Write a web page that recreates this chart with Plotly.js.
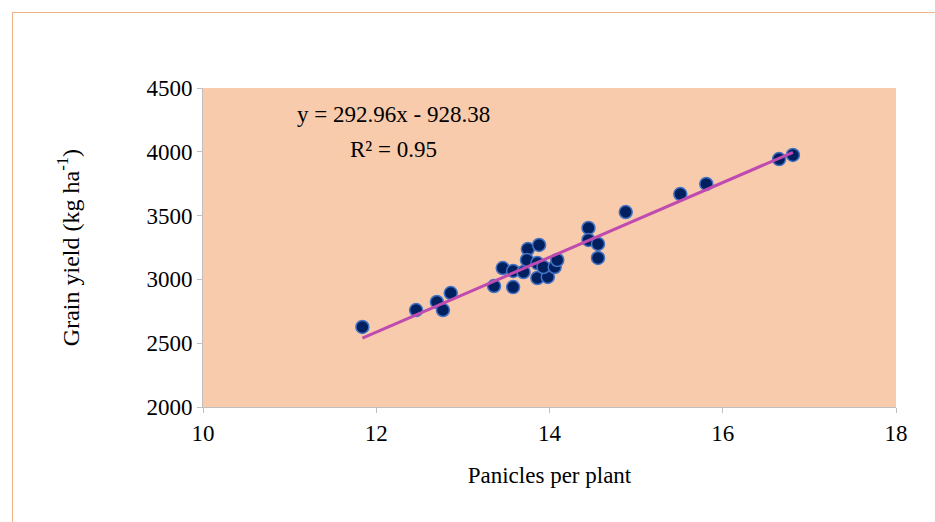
<!DOCTYPE html><html><head><script src="https://cdn.plot.ly/plotly-3.0.1.min.js"></script>
<style>body{margin:0;}#frame{position:absolute;left:12px;top:12px;width:930px;height:520px;border:1px solid #F4B183;box-sizing:border-box;}#c{position:absolute;left:0;top:0;width:935px;height:522px;}</style></head><body>
<div id="frame"></div><div id="c"></div>
<script>
const panicles=[11.84,12.46,12.70,12.77,12.86,13.36,13.46,13.58,13.58,13.70,13.75,13.74,13.88,13.86,13.86,13.98,13.93,14.06,14.09,14.45,14.45,14.56,14.56,14.88,15.51,15.81,16.65,16.81];
const yieldKg=[2627,2760,2823,2760,2893,2948,3089,2940,3066,3058,3238,3152,3270,3011,3128,3019,3097,3097,3152,3403,3309,3278,3168,3528,3669,3748,3943,3975];
const slope=292.96, intercept=-928.38;
const xmin=Math.min(...panicles), xmax=Math.max(...panicles);
const f="Liberation Serif, serif";
Plotly.newPlot('c',[
{x:panicles,y:yieldKg,mode:'markers',type:'scatter',marker:{color:'#002060',size:13,line:{color:'#4472C4',width:1.5}}},
{x:[xmin,xmax],y:[slope*xmin+intercept,slope*xmax+intercept],mode:'lines',line:{color:'#C04BB0',width:3}}
],{width:935,height:522,margin:{l:203,r:39,t:88,b:115},showlegend:false,
paper_bgcolor:'rgba(0,0,0,0)',plot_bgcolor:'#F8CBAD',font:{family:f,size:23,color:'#000'},
xaxis:{range:[10,18],dtick:2,showgrid:false,zeroline:false,showline:true,linecolor:'#BFBFBF',ticks:'outside',ticklen:5,tickcolor:'#BFBFBF',tickfont:{family:f,size:23},title:{text:'Panicles per plant',font:{family:f,size:23},standoff:22}},
yaxis:{range:[2000,4500],dtick:500,showgrid:false,zeroline:false,showline:true,linecolor:'#BFBFBF',ticks:'outside',ticklen:5,tickcolor:'#BFBFBF',tickfont:{family:f,size:23},title:{text:'Grain yield (kg ha<sup>-1</sup>)',font:{family:f,size:24},standoff:60}},
annotations:[{xref:'x',yref:'y',x:12.2,y:4290,text:'y = 292.96x - 928.38',showarrow:false,font:{family:f,size:23}},
{xref:'x',yref:'y',x:12.2,y:4015,text:'R² = 0.95',showarrow:false,font:{family:f,size:23}}]
},{displayModeBar:false});
</script></body></html>
